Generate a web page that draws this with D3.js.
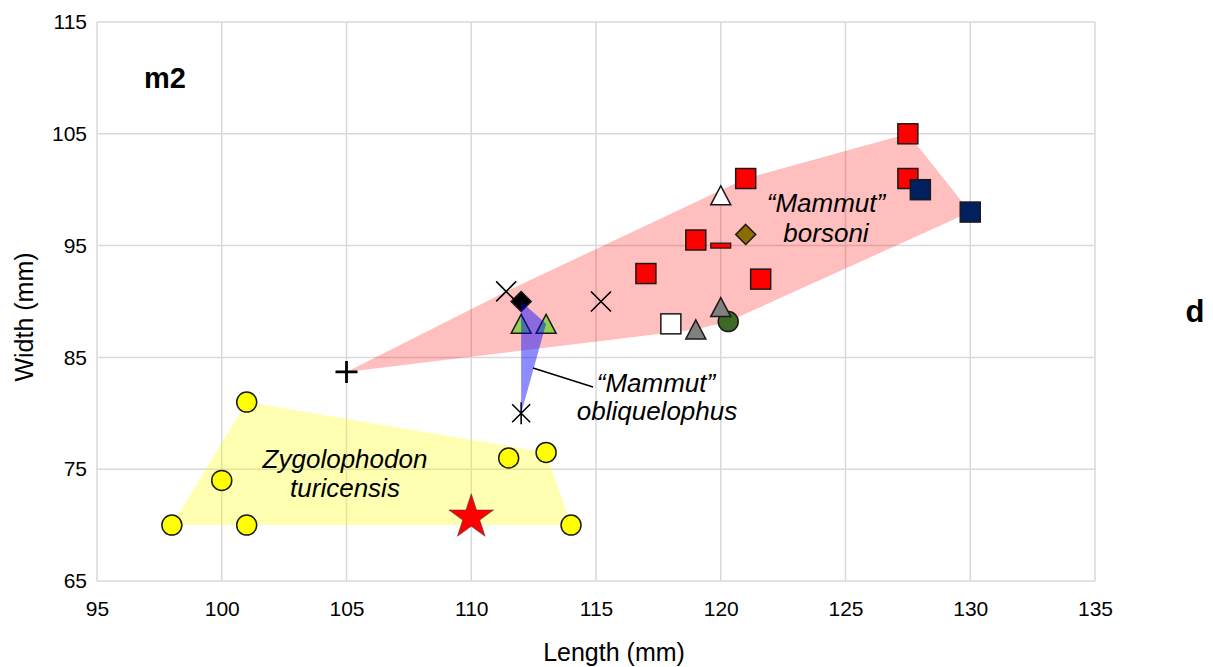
<!DOCTYPE html>
<html><head><meta charset="utf-8">
<script src="https://cdn.jsdelivr.net/npm/d3@7"></script>
<style>body{margin:0;background:#fff}svg{display:block;font-family:"Liberation Sans",Arial,sans-serif}</style>
</head><body>
<svg id="c" width="1213" height="667"></svg>
<script>
// ---- data ----
const xTicks = [95,100,105,110,115,120,125,130,135];
const yTicks = [65,75,85,95,105,115];
const zygoX = [98,100,101,101,111.5,113,114];
const zygoY = [70,74,70,81,76,76.5,70];
const starX = [110], starY = [70.7];
const redSqX = [117,119,121,121.6,127.5,127.5];
const redSqY = [92.5,95.5,101,92,105,101];
const navySqX = [128,130], navySqY = [100,98];
const openSqX = [118], openSqY = [88];
const grayTriX = [119,120], grayTriY = [87.5,89.5];
const openTriX = [120], openTriY = [99.5];
const greenTriX = [112,113], greenTriY = [88,88];
const greenCircX = [120.3], greenCircY = [88.2];
const brownDiaX = [121], brownDiaY = [96];
const blackDiaX = [112], blackDiaY = [90];
const crossX = [111.4,115.2], crossY = [90.9,90];
const plusX = [105], plusY = [83.7];
const asterX = [112], asterY = [80];
const dashX = [120], dashY = [95];

const svg = d3.select("#c");
const x = d3.scaleLinear().domain([95,135]).range([97,1095]);
const y = d3.scaleLinear().domain([65,115]).range([581,22]);
const pts = (xs, ys) => xs.map((v,i)=>[x(v), y(ys[i])]);

// grid
const grid = svg.append("g");
grid.selectAll("line.v").data(xTicks).join("line")
  .attr("x1",d=>x(d)).attr("x2",d=>x(d)).attr("y1",y(115)).attr("y2",y(65))
  .attr("stroke","#d9d9d9").attr("stroke-width",1.5);
grid.selectAll("line.h").data(yTicks).join("line")
  .attr("y1",d=>y(d)).attr("y2",d=>y(d)).attr("x1",x(95)).attr("x2",x(135))
  .attr("stroke","#d9d9d9").attr("stroke-width",1.5);

// axes (labels only)
const xa = svg.append("g").attr("transform",`translate(0,${y(65)})`)
  .call(d3.axisBottom(x).tickValues(xTicks).tickSize(0).tickPadding(20));
xa.select(".domain").remove();
xa.selectAll("text").attr("font-size",21).attr("fill","#000").attr("font-family","Liberation Sans, Arial, sans-serif");
const ya = svg.append("g").attr("transform",`translate(${x(95)},0)`)
  .call(d3.axisLeft(y).tickValues(yTicks).tickSize(0).tickPadding(10));
ya.select(".domain").remove();
ya.selectAll("text").attr("font-size",21).attr("fill","#000").attr("font-family","Liberation Sans, Arial, sans-serif");

svg.append("text").attr("x",614).attr("y",661).attr("text-anchor","middle")
  .attr("font-size",25).text("Length (mm)");
svg.append("text").attr("transform","translate(33,317) rotate(-90)").attr("text-anchor","middle")
  .attr("font-size",25).text("Width (mm)");

// hulls
const borsoniPts = [].concat(pts(plusX,plusY),pts(crossX,crossY),pts(redSqX,redSqY),pts(navySqX,navySqY),
  pts(openSqX,openSqY),pts(grayTriX,grayTriY),pts(openTriX,openTriY),pts(greenCircX,greenCircY),
  pts(brownDiaX,brownDiaY),pts(dashX,dashY));
const obliqPts = [].concat(pts(blackDiaX,blackDiaY),pts(greenTriX,greenTriY),pts(asterX,asterY));
const zygoPts = pts(zygoX,zygoY);
const hullPath = p => "M" + d3.polygonHull(p).join("L") + "Z";
svg.append("path").attr("d",hullPath(zygoPts)).attr("fill","rgba(255,255,0,0.3)");
svg.append("path").attr("d",hullPath(borsoniPts)).attr("fill","rgba(255,0,0,0.25)");

const stroke = "#1a1a1a";
const mk = svg.append("g");
// circles
mk.selectAll("circle.z").data(zygoPts).join("circle")
  .attr("cx",d=>d[0]).attr("cy",d=>d[1]).attr("r",10).attr("fill","#ffff00").attr("stroke",stroke).attr("stroke-width",1.5);
mk.selectAll("circle.g").data(pts(greenCircX,greenCircY)).join("circle")
  .attr("cx",d=>d[0]).attr("cy",d=>d[1]).attr("r",10).attr("fill","#3d6b26").attr("stroke",stroke).attr("stroke-width",1.5);
// star
const R = 23.5;
mk.selectAll("path.star").data(pts(starX,starY)).join("path")
  .attr("d", d3.symbol(d3.symbolStar, R*R/0.8908130915292852)())
  .attr("transform",d=>`translate(${d[0]},${d[1]})`)
  .attr("fill","#ff0000").attr("stroke","#444").attr("stroke-width",0.6);
// squares
const sq = (data, fill) => mk.append("g").selectAll("rect").data(data).join("rect")
  .attr("x",d=>d[0]-10).attr("y",d=>d[1]-10).attr("width",20).attr("height",20)
  .attr("fill",fill).attr("stroke",stroke).attr("stroke-width",1.5);
sq(pts(openSqX,openSqY),"#ffffff");
sq(pts(redSqX,redSqY),"#ff0000");
sq(pts(navySqX,navySqY),"#002060");
// triangles
const tri = (data, fill) => mk.append("g").selectAll("path").data(data).join("path")
  .attr("d","M-10,9.5L10,9.5L0,-9.5Z").attr("transform",d=>`translate(${d[0]},${d[1]})`)
  .attr("fill",fill).attr("stroke",stroke).attr("stroke-width",1.5);
tri(pts(grayTriX,grayTriY),"#808080");
tri(pts(openTriX,openTriY),"#ffffff");
tri(pts(greenTriX,greenTriY),"#92d050");
// diamonds
const dia = (data, fill) => mk.append("g").selectAll("path").data(data).join("path")
  .attr("d","M0,-10L10,0L0,10L-10,0Z").attr("transform",d=>`translate(${d[0]},${d[1]})`)
  .attr("fill",fill).attr("stroke",stroke).attr("stroke-width",1.5);
dia(pts(brownDiaX,brownDiaY),"#8c6d00");
dia(pts(blackDiaX,blackDiaY),"#000000");
// dash
mk.selectAll("rect.dash").data(pts(dashX,dashY)).join("rect")
  .attr("x",d=>d[0]-10).attr("y",d=>d[1]-2.5).attr("width",20).attr("height",5)
  .attr("fill","#ff0000").attr("stroke",stroke).attr("stroke-width",1.2);
// crosses
mk.append("g").selectAll("path").data(pts(crossX,crossY)).join("path")
  .attr("d","M-10,-10L10,10M-10,10L10,-10").attr("transform",d=>`translate(${d[0]},${d[1]})`)
  .attr("stroke","#000").attr("stroke-width",1.6).attr("fill","none");
// plus
mk.append("g").selectAll("path").data(pts(plusX,plusY)).join("path")
  .attr("d","M-11,0L11,0M0,-11L0,11").attr("transform",d=>`translate(${d[0]},${d[1]})`)
  .attr("stroke","#000").attr("stroke-width",2.8).attr("fill","none");
// asterisk
mk.append("g").selectAll("path").data(pts(asterX,asterY)).join("path")
  .attr("d","M-9,-9L9,9M-9,9L9,-9M0,-11L0,11").attr("transform",d=>`translate(${d[0]},${d[1]})`)
  .attr("stroke","#000").attr("stroke-width",1.6).attr("fill","none");

// obliquelophus hull over markers
svg.append("path").attr("d",hullPath(obliqPts)).attr("fill","rgba(0,0,255,0.45)");

// leader line
svg.append("line").attr("x1",533).attr("y1",368).attr("x2",593).attr("y2",387)
  .attr("stroke","#000").attr("stroke-width",1.5);

// labels
const lab = (tx, ty, s) => svg.append("text").attr("x",tx).attr("y",ty).attr("text-anchor","middle")
  .attr("font-size",26).attr("font-style","italic").text(s);
lab(826,212,"\u201cMammut\u201d"); lab(826,242,"borsoni");
lab(656,392,"\u201cMammut\u201d"); lab(657,420,"obliquelophus");
lab(345,468,"Zygolophodon"); lab(345,497,"turicensis");

svg.append("text").attr("x",165).attr("y",88).attr("text-anchor","middle")
  .attr("font-size",29).attr("font-weight","bold").text("m2");
svg.append("text").attr("x",1195).attr("y",322).attr("text-anchor","middle")
  .attr("font-size",31).attr("font-weight","bold").text("d");
</script>
</body></html>
